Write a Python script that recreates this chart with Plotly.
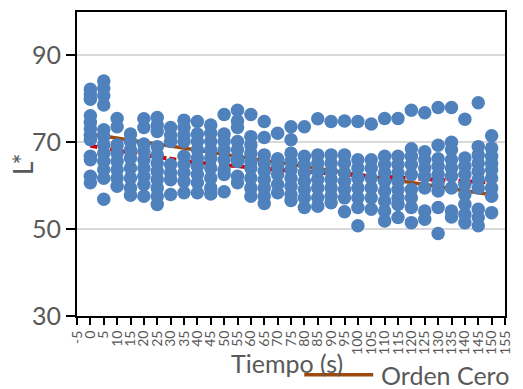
import plotly.graph_objects as go

times = [0, 5, 10, 15, 20, 25, 30, 35, 40, 45, 50, 55, 60, 65, 70, 75,
         80, 85, 90, 95, 100, 105, 110, 115, 120, 125, 130, 135, 140, 145, 150]

lvals = [
    [82.2, 81.1, 79.9, 76.1, 74.6, 73.1, 71.6, 70.6, 66.8, 66.0, 62.2, 60.7],
    [84.1, 82.4, 80.7, 78.6, 72.9, 71.3, 69.4, 67.5, 65.6, 63.7, 61.7, 56.9],
    [75.5, 73.6, 69.4, 67.5, 65.6, 63.7, 61.8, 59.9],
    [71.9, 70.2, 68.3, 66.4, 64.1, 61.8, 59.5, 57.8],
    [75.4, 73.4, 69.6, 67.9, 66.0, 64.1, 62.2, 60.3, 57.6],
    [75.7, 74.0, 72.5, 69.0, 67.1, 65.2, 63.3, 61.4, 59.5, 57.6, 55.7],
    [73.4, 71.7, 70.2, 64.9, 63.0, 61.4, 58.0],
    [75.1, 73.4, 71.7, 70.2, 66.8, 64.9, 63.0, 61.0, 58.4],
    [74.8, 71.9, 70.2, 68.3, 66.4, 64.5, 62.6, 60.7, 58.4],
    [74.0, 72.1, 70.2, 68.3, 66.4, 64.1, 61.8, 59.5, 58.1],
    [76.4, 71.9, 70.2, 68.3, 66.0, 63.7, 62.6, 58.6],
    [77.4, 74.9, 73.4, 70.2, 68.3, 66.4, 65.6, 62.2, 60.7],
    [76.4, 71.3, 69.4, 67.5, 65.6, 64.1, 61.8, 59.5, 57.6],
    [74.8, 71.1, 67.1, 65.2, 63.3, 61.4, 59.5, 57.6, 55.9],
    [72.1, 66.2, 64.5, 62.6, 60.3, 58.4],
    [73.6, 70.6, 67.5, 65.6, 63.7, 61.8, 59.9, 58.0, 56.6],
    [73.6, 66.8, 64.9, 63.0, 61.0, 59.1, 57.2, 55.0],
    [75.4, 67.1, 65.2, 63.3, 61.4, 59.5, 57.2, 55.3],
    [74.8, 67.1, 65.2, 63.3, 61.4, 59.5, 57.6, 56.1],
    [74.9, 67.1, 65.2, 63.0, 61.0, 59.1, 57.2, 54.0],
    [74.8, 66.0, 64.1, 61.8, 59.5, 57.2, 55.0, 50.8],
    [74.2, 66.0, 64.1, 61.8, 59.5, 57.2, 54.6],
    [75.5, 66.8, 64.9, 63.0, 61.0, 58.8, 56.5, 54.2, 51.9],
    [75.5, 66.8, 64.9, 63.0, 61.0, 59.1, 57.2, 55.7, 52.7],
    [77.4, 68.5, 66.8, 64.9, 62.6, 59.1, 57.2, 55.0, 51.5],
    [76.8, 67.8, 66.0, 64.1, 62.2, 59.5, 54.2, 52.3],
    [78.0, 69.3, 66.2, 64.5, 62.6, 60.7, 58.8, 55.0, 49.0],
    [78.0, 70.0, 68.3, 66.0, 64.1, 62.2, 59.5, 54.2, 52.8],
    [75.3, 66.4, 64.5, 62.6, 60.3, 58.0, 55.7, 53.4, 51.5],
    [79.1, 69.0, 67.1, 65.2, 63.3, 61.4, 59.5, 54.6, 52.7, 50.8],
    [71.5, 68.7, 66.8, 65.2, 63.7, 61.8, 59.5, 57.6, 53.8],
]

primer_orden = [69.2, 68.6, 68.1, 67.6, 67.1, 66.6, 66.1, 65.6, 65.3, 65.0, 64.7,
                64.4, 64.1, 63.9, 63.7, 63.5, 63.2, 63.0, 62.8, 62.6, 62.4, 62.2,
                62.0, 61.8, 61.6, 61.5, 61.3, 61.2, 61.0, 60.9, 60.8]

orden_cero = [71.9, 71.4, 71.0, 70.5, 70.0, 69.6, 69.1, 68.6, 68.2, 67.7, 67.2,
              66.8, 66.3, 65.8, 65.4, 64.9, 64.4, 64.0, 63.5, 63.0, 62.6, 62.1,
              61.6, 61.2, 60.7, 60.2, 59.8, 59.3, 58.8, 58.4, 57.9]

xticks = list(range(-5, 160, 5))
xticklabels = [str(v) for v in xticks]
yticks = [30, 50, 70, 90]

FONT = "Lato"
GREY = "#595959"

scatter_x, scatter_y = [], []
for t, vals in zip(times, lvals):
    for v in vals:
        scatter_x.append(t)
        scatter_y.append(v)

fig = go.Figure()
fig.add_trace(go.Scatter(x=times, y=orden_cero, mode="lines", name="Orden Cero",
                         line=dict(color="#9C4A0E", width=3.5), showlegend=False))
fig.add_trace(go.Scatter(x=times, y=primer_orden, mode="lines", name="Primer Orden",
                         line=dict(color="#D00000", width=4, dash="7px,3px"), showlegend=False))
fig.add_trace(go.Scatter(x=scatter_x, y=scatter_y, mode="markers", name="L*",
                         marker=dict(color="#4F81BD", size=13.5, line=dict(width=0)),
                         showlegend=False))

fig.update_layout(
    width=523, height=389,
    margin=dict(l=77, r=11, t=10, b=73),
    paper_bgcolor="white", plot_bgcolor="white",
    font=dict(family=FONT, color=GREY),
    showlegend=False,
)
fig.update_xaxes(
    range=[-5, 155], tickmode="array", tickvals=xticks, ticktext=xticklabels,
    tickangle=-90, tickfont=dict(size=14, color=GREY, family=FONT),
    showgrid=False, zeroline=False, showline=True, linecolor="black", linewidth=2,
    mirror=True, ticks="outside", ticklen=7, tickwidth=1.5, tickcolor="black",
)
fig.update_yaxes(
    range=[30, 100], tickmode="array", tickvals=yticks,
    tickfont=dict(size=25, color=GREY, family=FONT),
    showgrid=True, gridcolor="#D9D9D9", gridwidth=1.5, zeroline=False,
    showline=True, linecolor="black", linewidth=2, mirror=True,
    ticks="outside", ticklen=9, tickwidth=2, tickcolor="black",
)

# axis titles
fig.add_annotation(text="L*", xref="paper", yref="paper", x=-0.126, y=0.50,
                   textangle=-90, showarrow=False, xanchor="center", yanchor="middle",
                   font=dict(size=26, color=GREY, family=FONT))
fig.add_annotation(text="Tiempo (s)", xref="paper", yref="paper", x=0.49, y=-0.155,
                   showarrow=False, xanchor="center", yanchor="middle",
                   font=dict(size=25, color=GREY, family=FONT))
# legend (Orden Cero)
fig.add_shape(type="line", xref="paper", yref="paper", x0=0.531, x1=0.692,
              y0=-0.193, y1=-0.193, line=dict(color="#9C4A0E", width=3.5))
fig.add_annotation(text="Orden Cero", xref="paper", yref="paper", x=0.705, y=-0.193,
                   showarrow=False, xanchor="left", yanchor="middle",
                   font=dict(size=25, color=GREY, family=FONT))

fig.write_html("out.html")
